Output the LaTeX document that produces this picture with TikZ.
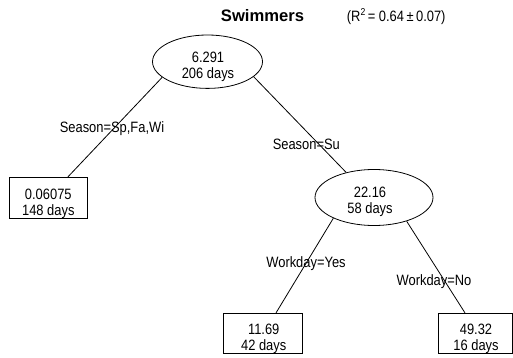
\documentclass[tikz,border=0pt]{standalone}
\usepackage{fontspec}
\setmainfont{Liberation Sans}[FakeStretch=0.86]
\newfontfamily\titlefont{Liberation Sans}
\usetikzlibrary{shapes.geometric}

\begin{document}
\begin{tikzpicture}[x=1pt,y=-1pt,
  split/.style={draw, ellipse, line width=0.8pt, minimum width=110pt,
    minimum height=53.4pt, inner sep=0pt},
  leaf/.style={draw, rectangle, line width=0.8pt, minimum width=78pt,
    minimum height=41pt, inner sep=0pt},
  nodetext/.style={align=center, font=\fontsize{15}{15.8}\selectfont, inner sep=0pt},
  cond/.style={anchor=base, font=\fontsize{15}{16}\selectfont, inner sep=0pt},
  branch/.style={line width=0.8pt}]
\useasboundingbox (0,0) rectangle (513,358);

% heading
\node[anchor=base, inner sep=0pt,
  font=\titlefont\bfseries\fontsize{16.6}{20}\selectfont] (title) at (262.5,21.7) {Swimmers};
\node[anchor=base west, inner sep=0pt, font=\fontsize{15}{16}\selectfont]
  (fitval) at (346.7,22) {(R\raisebox{6pt}{\fontsize{10}{10}\selectfont 2}\,= 0.64\,±\,0.07)};

% split nodes
\node[split] (root) at (207.5,61.7) {};
\node[nodetext] (rootT) at (208,67) {6.291\\206 days};
\node[split, minimum width=118pt, minimum height=56pt] (sub) at (374,197.5) {};
\node[nodetext] (subT) at (370,201.8) {22.16\\58 days};

% terminal nodes
\node[leaf] (l1) at (48,197.7) {};
\node[nodetext] (l1T) at (48.3,203.5) {0.06075\\148 days};
\node[leaf, minimum width=79pt, minimum height=40pt] (l2) at (262.5,333.3) {};
\node[nodetext] (l2T) at (263.7,339) {11.69\\42 days};
\node[leaf, minimum width=74pt, minimum height=40pt] (l3) at (475,333.3) {};
\node[nodetext] (l3T) at (476,339) {49.32\\16 days};

% branches
\draw[branch] (root.199.2) -- ([xshift=20pt]l1.north);
\draw[branch] (root.342.5) -- (sub.138.5);
\draw[branch] (sub.207.7) -- ([xshift=13.5pt]l2.north);
\draw[branch] (sub.324.9) -- ([xshift=-10pt]l3.north);

% split conditions
\node[cond] (c1) at (112,132.3) {Season=Sp,Fa,Wi};
\node[cond] (c2) at (306.3,149.3) {Season=Su};
\node[cond] (c3) at (306,267.3) {Workday=Yes};
\node[cond] (c4) at (434,285.7) {Workday=No};
\end{tikzpicture}
\end{document}
